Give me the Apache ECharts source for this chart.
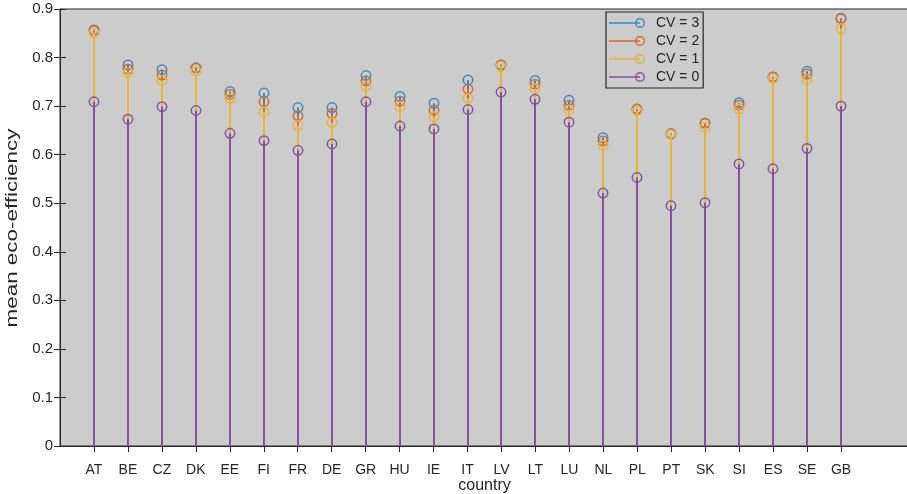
<!DOCTYPE html>
<html>
<head>
<meta charset="utf-8">
<script src="https://cdn.jsdelivr.net/npm/echarts@6.0.0/dist/echarts.min.js"></script>
<style>
html, body { margin: 0; background: #ffffff; }
#chart { width: 907px; height: 494px; }
</style>
</head>
<body>
<div id="chart"></div>
<script>
// 数据：每个国家平均生态效率
const 国家列表 = ['AT', 'BE', 'CZ', 'DK', 'EE', 'FI', 'FR', 'DE', 'GR', 'HU', 'IE', 'IT',
  'LV', 'LT', 'LU', 'NL', 'PL', 'PT', 'SK', 'SI', 'ES', 'SE', 'GB']
const 系列名称 = ['CV = 3', 'CV = 2', 'CV = 1', 'CV = 0']
const cv3数值 = [0.857, 0.785, 0.775, 0.779, 0.730, 0.727, 0.697, 0.697, 0.763, 0.720, 0.706, 0.754,
  0.785, 0.753, 0.712, 0.635, 0.694, 0.643, 0.665, 0.707, 0.760, 0.772, 0.881]
const cv2数值 = [0.856, 0.776, 0.764, 0.778, 0.724, 0.709, 0.680, 0.685, 0.752, 0.710, 0.692, 0.735,
  0.785, 0.745, 0.702, 0.628, 0.694, 0.643, 0.665, 0.702, 0.760, 0.766, 0.880]
const cv1数值 = [0.851, 0.769, 0.753, 0.772, 0.716, 0.688, 0.660, 0.666, 0.741, 0.699, 0.678, 0.716,
  0.782, 0.736, 0.692, 0.619, 0.690, 0.641, 0.656, 0.694, 0.757, 0.755, 0.860]
const cv0数值 = [0.709, 0.673, 0.699, 0.691, 0.644, 0.629, 0.609, 0.622, 0.709, 0.659, 0.653, 0.693,
  0.729, 0.714, 0.667, 0.521, 0.553, 0.495, 0.501, 0.581, 0.571, 0.613, 0.700]

const 系列颜色 = ['#3a8ac2', '#d9692f', '#e9b43c', '#87529c']
const 字体 = 'Liberation Sans, Arial, sans-serif'
const 文字颜色 = '#262626'
const 刻度位置 = 国家列表.map((_, idx) => idx + 1)

// 图例图标：左边一段线，右端一个空心圆
const 图例图标 =
  'path://M0,5.3L31,5.3L31,6.7L0,6.7Z' +
  'M36,6A5,5 0 1 1 26,6A5,5 0 1 1 36,6Z' +
  'M34.6,6A3.6,3.6 0 1 0 27.4,6A3.6,3.6 0 1 0 34.6,6Z'

function 画茎(颜色) {
  return function (params, api) {
    const 顶点 = api.coord([api.value(0), api.value(1)])
    const 底点 = api.coord([api.value(0), 0])
    // 对齐整像素，避免几条重叠的茎互相混色
    const x = Math.round(顶点[0])
    return {
      type: 'group',
      children: [
        {
          type: 'line',
          shape: { x1: x, y1: 底点[1], x2: x, y2: 顶点[1] },
          style: { stroke: 颜色, lineWidth: 2 },
        },
        {
          type: 'circle',
          shape: { cx: x, cy: 顶点[1], r: 4.7 },
          style: { fill: 'none', stroke: 颜色, lineWidth: 1.5 },
        },
      ],
    }
  }
}

const 数值列表 = [cv3数值, cv2数值, cv1数值, cv0数值]
const 系列 = 数值列表.map((数值, idx) => {
  return {
    name: 系列名称[idx],
    type: 'custom',
    color: 系列颜色[idx],
    itemStyle: { color: 系列颜色[idx] },
    renderItem: 画茎(系列颜色[idx]),
    data: 数值.map((值, i) => [i + 1, 值]),
  }
})

const 轴线 = { show: true, lineStyle: { color: 文字颜色, width: 1 } }

const chart = echarts.init(document.getElementById('chart'))
chart.setOption({
  animation: false,
  backgroundColor: '#ffffff',
  textStyle: { fontFamily: 字体, color: 文字颜色 },
  grid: {
    left: 60,
    right: -2,
    top: 9,
    bottom: 48,
    containLabel: false,
    outerBoundsMode: 'none',
    show: true,
    backgroundColor: '#cccccc',
    borderColor: 文字颜色,
    borderWidth: 1,
  },
  legend: {
    left: 606,
    top: 12,
    orient: 'vertical',
    icon: 图例图标,
    itemWidth: 36,
    itemHeight: 10,
    itemGap: 4,
    padding: [4, 4, 4, 3],
    backgroundColor: '#cccccc',
    borderColor: 文字颜色,
    borderWidth: 1.2,
    borderRadius: 0,
    textStyle: {
      fontFamily: 字体,
      fontSize: 14,
      lineHeight: 14,
      color: 文字颜色,
      padding: [0, 0, 0, 6],
    },
    data: 系列名称,
  },
  graphic: [
    {
      type: 'text',
      x: 13,
      y: 228,
      rotation: Math.PI / 2,
      scaleX: 1.4,
      style: {
        text: 'mean eco-efficiency',
        font: '16px ' + 字体,
        fill: 文字颜色,
        align: 'center',
        verticalAlign: 'middle',
      },
    },
  ],
  xAxis: [
    {
      type: 'value',
      min: 0,
      max: 25,
      interval: 1,
      name: 'country',
      nameLocation: 'middle',
      nameGap: 32,
      nameMoveOverlap: false,
      nameTextStyle: { fontFamily: 字体, fontSize: 16, color: 文字颜色 },
      axisLine: 轴线,
      axisTick: { inside: true, length: 6, customValues: 刻度位置, lineStyle: { color: 文字颜色 } },
      axisLabel: {
        customValues: 刻度位置,
        margin: 17,
        fontFamily: 字体,
        fontSize: 14,
        color: 文字颜色,
        formatter: (值) => 国家列表[值 - 1] ?? '',
      },
      splitLine: { show: false },
    },
    {
      type: 'value',
      position: 'top',
      min: 0,
      max: 25,
      interval: 1,
      axisLine: 轴线,
      axisTick: { inside: true, length: 6, customValues: 刻度位置, lineStyle: { color: 文字颜色 } },
      axisLabel: { show: false },
      splitLine: { show: false },
    },
  ],
  yAxis: [
    {
      type: 'value',
      min: 0,
      max: 0.9,
      interval: 0.1,
      axisLine: 轴线,
      axisTick: { inside: true, length: 6, lineStyle: { color: 文字颜色 } },
      axisLabel: { margin: 7, fontFamily: 字体, fontSize: 15, color: 文字颜色 },
      splitLine: { show: false },
    },
    {
      type: 'value',
      position: 'right',
      min: 0,
      max: 0.9,
      interval: 0.1,
      axisLine: 轴线,
      axisTick: { inside: true, length: 6, lineStyle: { color: 文字颜色 } },
      axisLabel: { show: false },
      splitLine: { show: false },
    },
  ],
  series: 系列,
})
</script>
</body>
</html>
